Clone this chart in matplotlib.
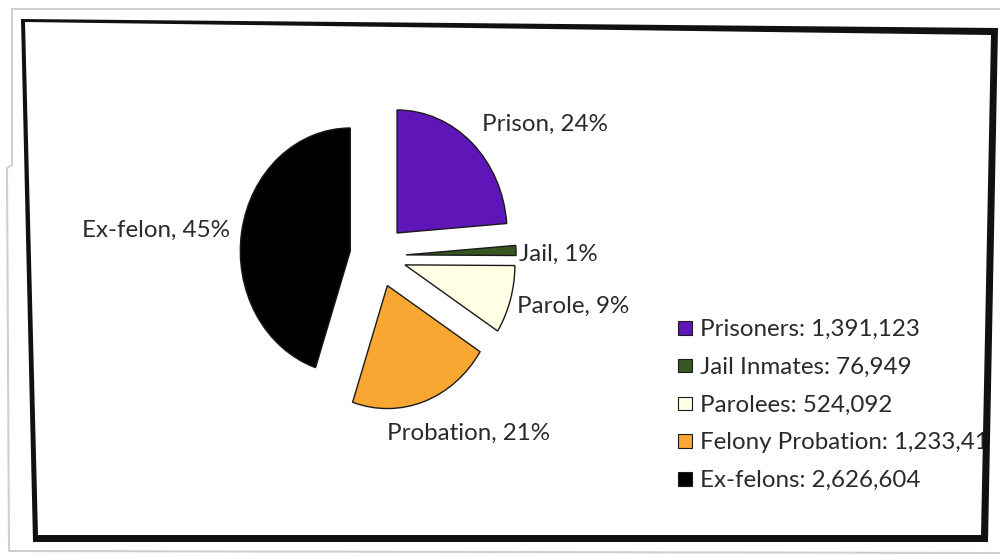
import matplotlib
matplotlib.use("Agg")
import matplotlib.pyplot as plt
from matplotlib.patches import Polygon, Rectangle, PathPatch
from matplotlib.path import Path

# ---- data ----
categories = ["Prison", "Jail", "Parole", "Probation", "Ex-felon"]
legend_names = ["Prisoners", "Jail Inmates", "Parolees", "Felony Probation", "Ex-felons"]
values = [1391123, 76949, 524092, 1233415, 2626604]
colors = ["#5f16b8", "#38561f", "#ffffe6", "#f9a733", "#000000"]

W, H = 1000, 556
plt.rcParams['font.family'] = ['Lato', 'DejaVu Sans']
fig = plt.figure(figsize=(W / 100, H / 100), dpi=100, facecolor="white")

def P(x, y):
    return (x / W, 1 - y / H)

TXT = "#2a2a2a"
FS = 17.4

# ---- pie (slightly taller than wide, as in the reference) ----
cx, cy, rx, ry, lim = 378, 256, 110, 123, 1.6
ax = fig.add_axes([(cx - lim * rx) / W, (H - cy - lim * ry) / H,
                   2 * lim * rx / W, 2 * lim * ry / H])
wedges, _ = ax.pie(values, colors=colors, startangle=90, counterclock=False,
                   explode=[0.255] * len(values),
                   wedgeprops=dict(edgecolor="#1a1a1a", linewidth=1.0))
ax.set_aspect("auto")
ax.set_xlim(-lim, lim)
ax.set_ylim(-lim, lim)
ax.axis("off")

# ---- data labels ----
total = sum(values)
label_pos = [(482, 131), (519, 261), (517, 313), (387, 440), (82, 237)]
for cat, v, (x, y) in zip(categories, values, label_pos):
    fig.text(*P(x, y), f"{cat}, {round(100 * v / total)}%", ha="left",
             va="baseline", fontsize=FS, color=TXT, zorder=2)

# ---- legend ----
base0, step = 336, 37.8
for i, (name, v, c) in enumerate(zip(legend_names, values, colors)):
    b = base0 + i * step
    x0, y0 = P(678, b - 1.5)
    fig.patches.append(Rectangle((x0, y0), 13.5 / W, 13.5 / H, transform=fig.transFigure,
                                 facecolor=c, edgecolor="#1a1a1a", linewidth=0.8, zorder=2))
    fig.text(*P(700, b), f"{name}: {v:,}", ha="left", va="baseline",
             fontsize=FS, color=TXT, zorder=2)

# ---- photo-like frame ----
outer = [(21, 19), (998, 28), (988, 542), (33, 542)]
inner = [(25, 22), (991, 35), (981, 535), (38, 535)]
verts = [P(*p) for p in outer] + [P(*outer[0])] + [P(*p) for p in inner[::-1]] + [P(*inner[-1])]
codes = ([Path.MOVETO] + [Path.LINETO] * 3 + [Path.CLOSEPOLY]) * 2
ring = PathPatch(Path(verts, codes), transform=fig.transFigure, facecolor="#111111",
                 edgecolor="none", zorder=6)
fig.patches.append(ring)
# white mask outside right edge of the frame
fig.patches.append(Polygon([P(998, 0), P(W, 0), P(W, H), P(988, H)], closed=True,
                           transform=fig.transFigure, facecolor="white",
                           edgecolor="none", zorder=5))
# light grey outer border
grey = "#cfcfcf"
fig.lines.append(plt.Line2D(*zip(P(12, 9), P(W, 9)), transform=fig.transFigure,
                            color=grey, lw=1.5, zorder=7))
fig.lines.append(plt.Line2D(*zip(P(12, 9), P(12, 165), P(7, 168), P(9, 551), P(W, 553)),
                            transform=fig.transFigure, color=grey, lw=1.5, zorder=7))

fig.savefig("out.png", dpi=100, facecolor="white")
